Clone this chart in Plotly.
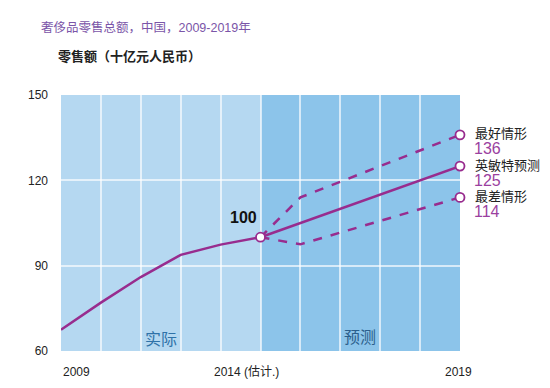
import plotly.graph_objects as go

# ---- data ----
actual_years = [2009, 2010, 2011, 2012, 2013, 2014]
actual_values = [67.5, 77, 86, 93.8, 97.4, 100]

base_years = [2014, 2019]
base_values = [100, 125]

best_years = [2014, 2015, 2019]
best_values = [100, 114, 136]

worst_years = [2014, 2015, 2019]
worst_values = [100, 97.5, 114]

y_ticks = [60, 90, 120, 150]
x_label_pos = [2009.4, 2013.65, 2018.95]
x_labels = ["2009", "2014 (估计.)", "2019"]

scenario_names = ["最好情形", "英敏特预测", "最差情形"]
scenario_values = [136, 125, 114]

PURPLE = "#982c8e"
LIGHT = "#b5d8f1"
DARK = "#8cc4ea"
FONT = "Liberation Sans, Arial, Noto Sans CJK SC, sans-serif"

fig = go.Figure()

fig.add_shape(type="rect", x0=2009, x1=2014, y0=60, y1=150, xref="x", yref="y",
              fillcolor=LIGHT, line_width=0, layer="below")
fig.add_shape(type="rect", x0=2014, x1=2019, y0=60, y1=150, xref="x", yref="y",
              fillcolor=DARK, line_width=0, layer="below")

fig.add_trace(go.Scatter(x=actual_years, y=actual_values, mode="lines",
                         line=dict(color=PURPLE, width=2.5), cliponaxis=False,
                         hoverinfo="skip"))
fig.add_trace(go.Scatter(x=best_years, y=best_values, mode="lines",
                         line=dict(color=PURPLE, width=2.5, dash="dash"),
                         cliponaxis=False, hoverinfo="skip"))
fig.add_trace(go.Scatter(x=worst_years, y=worst_values, mode="lines",
                         line=dict(color=PURPLE, width=2.5, dash="dash"),
                         cliponaxis=False, hoverinfo="skip"))
fig.add_trace(go.Scatter(x=base_years, y=base_values, mode="lines",
                         line=dict(color=PURPLE, width=2.5),
                         cliponaxis=False, hoverinfo="skip"))
fig.add_trace(go.Scatter(x=[2014, 2019, 2019, 2019], y=[100] + scenario_values,
                         mode="markers", cliponaxis=False, hoverinfo="skip",
                         marker=dict(size=9, color="white",
                                     line=dict(color=PURPLE, width=1.8))))

fig.update_xaxes(range=[2009, 2019], showgrid=True, dtick=1, tick0=2009,
                 gridcolor="rgba(255,255,255,0.65)", gridwidth=1.5,
                 showticklabels=False, zeroline=False, showline=False)
fig.update_yaxes(range=[60, 150], tickvals=y_ticks, showgrid=True,
                 gridcolor="rgba(255,255,255,0.65)", gridwidth=1.5,
                 zeroline=False, showline=False, ticklabelstandoff=12,
                 tickfont=dict(family=FONT, size=12, color="#222"))

ann = []
for xp, t in zip(x_label_pos, x_labels):
    ann.append(dict(x=xp, y=0, xref="x", yref="paper", yshift=-21, text=t,
                    showarrow=False, xanchor="center", yanchor="middle",
                    font=dict(family=FONT, size=12, color="#222")))

for name, v in zip(scenario_names, scenario_values):
    ann.append(dict(x=1, y=v, xref="paper", yref="y", xshift=14, yshift=1, text=name,
                    showarrow=False, xanchor="left", yanchor="middle", borderpad=0,
                    font=dict(family=FONT, size=13, color="#222")))
    ann.append(dict(x=1, y=v, xref="paper", yref="y", xshift=13, yshift=-14,
                    text=str(v), showarrow=False, xanchor="left", yanchor="middle",
                    borderpad=0,
                    font=dict(family=FONT, size=16, color="#9b3f9f")))

ann.append(dict(x=2014, y=100, xref="x", yref="y", xshift=-17, yshift=20,
                text="<b>100</b>", showarrow=False, xanchor="center", yanchor="middle",
                font=dict(family=FONT, size=16, color="#111")))
ann.append(dict(x=2011.5, y=60, xref="x", yref="y", yshift=12, text="实际",
                showarrow=False, xanchor="center", yanchor="middle",
                font=dict(family=FONT, size=16, color="#2f72a8")))
ann.append(dict(x=2016.5, y=60, xref="x", yref="y", yshift=14, text="预测",
                showarrow=False, xanchor="center", yanchor="middle",
                font=dict(family=FONT, size=16, color="#2b5f8c")))

ann.append(dict(x=-0.055, y=1.262, xref="paper", yref="paper",
                text="奢侈品零售总额，中国，2009-2019年", showarrow=False,
                xanchor="left", yanchor="middle",
                font=dict(family=FONT, size=12.5, color="#7b55a8")))
ann.append(dict(x=-0.012, y=1.152, xref="paper", yref="paper",
                text="<b>零售额（十亿元人民币）</b>", showarrow=False,
                xanchor="left", yanchor="middle",
                font=dict(family=FONT, size=13, color="#222")))

fig.update_layout(width=550, height=388, autosize=False,
                  margin=dict(l=61, r=90, t=95, b=37),
                  paper_bgcolor="white", plot_bgcolor="white",
                  showlegend=False, annotations=ann)

fig.write_html("out.html", config={"displayModeBar": False},
               post_script="document.body.style.margin='0';document.body.style.overflow='hidden';")
